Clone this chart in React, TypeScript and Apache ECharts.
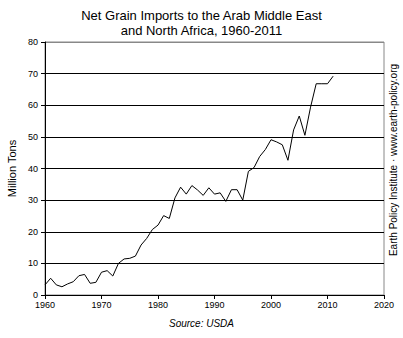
import React, { useEffect, useRef } from "react";
import * as echarts from "echarts";

const years: number[] = [];
for (let y = 1960; y <= 2011; y++) years.push(y);

const imports = [
  3.2, 5.3, 3.2, 2.6, 3.5, 4.2, 6.1, 6.5, 3.7, 4.0,
  7.2, 7.7, 6.0, 10.0, 11.4, 11.6, 12.3, 15.8, 17.9, 20.7,
  22.1, 25.1, 24.2, 30.7, 34.1, 31.9, 34.6, 33.2, 31.5, 33.9,
  31.9, 32.3, 29.6, 33.3, 33.3, 30.0, 39.1, 40.3, 43.8, 46.0,
  49.1, 48.4, 47.5, 42.6, 52.2, 56.6, 50.5, 59.4, 66.8, 66.8,
  66.8, 69.2,
];

const titleLines = ["Net Grain Imports to the Arab Middle East", "and North Africa, 1960-2011"];
const yAxisName = "Million Tons";
const sourceText = "Source: USDA";
const creditText = "Earth Policy Institute · www.earth-policy.org";

const FONT = "'Liberation Sans', Arial, sans-serif";

export default function App() {
  const ref = useRef<HTMLDivElement>(null);
  useEffect(() => {
    if (!ref.current) return;
    const chart = echarts.init(ref.current, null, { renderer: "svg" });
    chart.setOption({
      animation: false,
      backgroundColor: "#fff",
      textStyle: { fontFamily: FONT },
      title: {
        text: titleLines.join("\n"),
        left: "center",
        top: 3,
        textStyle: { fontFamily: FONT, fontSize: 13, fontWeight: "normal", color: "#000", lineHeight: 15 },
      },
      grid: {
        left: 45,
        right: 19,
        top: 42,
        bottom: 43,
        show: true,
        borderColor: "#888",
        borderWidth: 1,
        outerBoundsMode: "none",
        containLabel: false,
      },
      xAxis: {
        type: "value",
        min: 1960,
        max: 2020,
        interval: 10,
        axisLine: { show: true, onZero: false, lineStyle: { color: "#000", width: 1 } },
        axisTick: { show: true, length: 4, lineStyle: { color: "#000" } },
        axisLabel: { color: "#000", fontSize: 9, fontFamily: FONT, margin: 5, formatter: (v: number) => String(v) },
        splitLine: { show: false },
      },
      yAxis: {
        type: "value",
        min: 0,
        max: 80,
        interval: 10,
        name: yAxisName,
        nameLocation: "middle",
        nameGap: 27,
        nameTextStyle: { color: "#000", fontSize: 11, fontFamily: FONT },
        axisLine: { show: true, lineStyle: { color: "#000", width: 1 } },
        axisTick: { show: true, length: 4, lineStyle: { color: "#000" } },
        axisLabel: { color: "#000", fontSize: 9, fontFamily: FONT, margin: 7 },
        splitLine: {
          show: true,
          lineStyle: { color: ["#000", "#000", "#000", "#000", "#000", "#000", "#000", "#000", "#888"], width: 1 },
        },
      },
      graphic: [
        {
          type: "text",
          left: "center",
          top: 318,
          style: { text: sourceText, fontFamily: FONT, fontSize: 10, fontStyle: "italic", fill: "#000" },
        },
        {
          type: "text",
          x: 388,
          y: 160,
          rotation: Math.PI / 2,
          style: {
            text: creditText,
            fontFamily: FONT,
            fontSize: 10,
            fill: "#000",
            align: "center",
            verticalAlign: "top",
          },
        },
      ],
      series: [
        {
          type: "line",
          data: years.map((y, i) => [y, imports[i]]),
          showSymbol: false,
          symbol: "none",
          lineStyle: { color: "#000", width: 1 },
        },
      ],
    });
    return () => chart.dispose();
  }, []);
  return <div ref={ref} style={{ width: 403, height: 338, position: "absolute", left: 0, top: 0 }} />;
}
